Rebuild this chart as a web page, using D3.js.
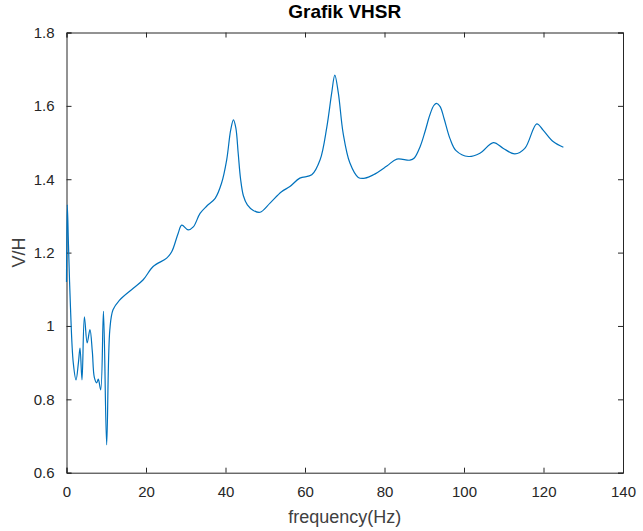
<!DOCTYPE html>
<html>
<head>
<meta charset="utf-8">
<script src="https://cdn.jsdelivr.net/npm/d3@7"></script>
<style>
  body { margin: 0; background: #fff; }
  svg { display: block; }
  text { font-family: "Liberation Sans", Arial, Helvetica, sans-serif; fill: #262626; }
</style>
</head>
<body>
<svg id="chart" width="643" height="531"></svg>
<script>
const title = "Grafik VHSR";
const xLabel = "frequency(Hz)";
const yLabel = "V/H";
const xTicks = [0, 20, 40, 60, 80, 100, 120, 140];
const yTicks = [0.6, 0.8, 1, 1.2, 1.4, 1.6, 1.8];
const yTickLabels = ["0.6", "0.8", "1", "1.2", "1.4", "1.6", "1.8"];

const freq = [0, 0.2, 0.5, 1.0, 1.7, 2.4, 3.0, 3.4, 3.9, 4.5, 5.2, 5.9, 6.5, 7.0, 7.6, 8.0, 8.6, 9.3, 10.1, 10.9, 11.7, 13.3, 16.8, 19.3, 21.8, 25.2, 26.5, 28.1, 29.0, 30.6, 31.9, 33.6, 35.3, 37.4, 39.0, 40.3, 41.3, 42.0, 42.6, 43.2, 43.8, 44.5, 45.5, 47.0, 48.7, 51.2, 54.1, 56.2, 58.7, 61.7, 63.8, 65.5, 66.7, 67.5, 68.4, 69.6, 71.3, 73.4, 75.1, 77.2, 80.6, 83.1, 86.4, 87.5, 89.0, 90.2, 91.4, 92.4, 93.1, 94.0, 95.0, 96.5, 98.0, 101.1, 104.0, 107.4, 109.9, 112.8, 115.3, 118.3, 119.9, 122.5, 125.0];
const vh = [1.12, 1.33, 1.22, 1.05, 0.90, 0.853, 0.90, 0.94, 0.853, 1.025, 0.954, 0.99, 0.93, 0.86, 0.845, 0.855, 0.826, 1.04, 0.676, 0.99, 1.044, 1.07, 1.103, 1.126, 1.162, 1.185, 1.203, 1.253, 1.275, 1.262, 1.27, 1.307, 1.327, 1.348, 1.389, 1.453, 1.534, 1.562, 1.54, 1.47, 1.40, 1.355, 1.33, 1.315, 1.31, 1.335, 1.366, 1.38, 1.403, 1.412, 1.453, 1.543, 1.634, 1.684, 1.634, 1.525, 1.444, 1.405, 1.403, 1.412, 1.436, 1.455, 1.452, 1.458, 1.49, 1.53, 1.575, 1.601, 1.607, 1.598, 1.565, 1.51, 1.478, 1.462, 1.471, 1.5, 1.484, 1.469, 1.484, 1.551, 1.534, 1.502, 1.487];

const svg = d3.select("#chart");
const L = 66.5, R = 623, T = 32.5, B = 472.7;
const x = d3.scaleLinear().domain([0, 140]).range([L, R]);
const y = d3.scaleLinear().domain([0.6, 1.8]).range([B, T]);
const axisColor = "#262626";
const tickLen = 5;

svg.append("rect").attr("x", L).attr("y", T).attr("width", R - L).attr("height", B - T).attr("fill", "#fff");

const gx = svg.append("g").attr("transform", `translate(0,${B})`)
  .call(d3.axisBottom(x).tickValues(xTicks).tickSize(-tickLen).tickPadding(14).tickFormat(d3.format("d")));
const gxt = svg.append("g").attr("transform", `translate(0,${T})`)
  .call(d3.axisTop(x).tickValues(xTicks).tickSize(-tickLen).tickFormat(""));
const gy = svg.append("g").attr("transform", `translate(${L},0)`)
  .call(d3.axisLeft(y).tickValues(yTicks).tickSize(-tickLen).tickPadding(12).tickFormat((d, i) => yTickLabels[i]));
const gyr = svg.append("g").attr("transform", `translate(${R},0)`)
  .call(d3.axisRight(y).tickValues(yTicks).tickSize(-tickLen).tickFormat(""));

[gx, gxt, gy, gyr].forEach(g => {
  g.select(".domain").attr("stroke", axisColor).attr("stroke-width", 1);
  g.selectAll(".tick line").attr("stroke", axisColor).attr("stroke-width", 1);
  g.selectAll(".tick text").attr("fill", "#404040").style("font-size", "15px")
    .style("font-family", "'Liberation Sans', Arial, sans-serif");
});

const line = d3.line()
  .x((d, i) => x(freq[i]))
  .y(d => y(d))
  .curve(d3.curveCatmullRom.alpha(0.5));
svg.append("path")
  .datum(vh)
  .attr("fill", "none")
  .attr("stroke", "#0072BD")
  .attr("stroke-width", 1.2)
  .attr("stroke-linejoin", "round")
  .attr("d", line);

svg.append("text").attr("x", (L + R) / 2).attr("y", 18)
  .attr("text-anchor", "middle").style("font-weight", "bold").style("font-size", "19px")
  .style("fill", "#000").text(title);
svg.append("text").attr("x", (L + R) / 2).attr("y", 523)
  .attr("text-anchor", "middle").style("font-size", "18px").style("fill", "#404040").text(xLabel);
svg.append("text").attr("transform", `translate(25,${(T + B) / 2}) rotate(-90)`)
  .attr("text-anchor", "middle").style("font-size", "18px").style("fill", "#404040").text(yLabel);
</script>
</body>
</html>
